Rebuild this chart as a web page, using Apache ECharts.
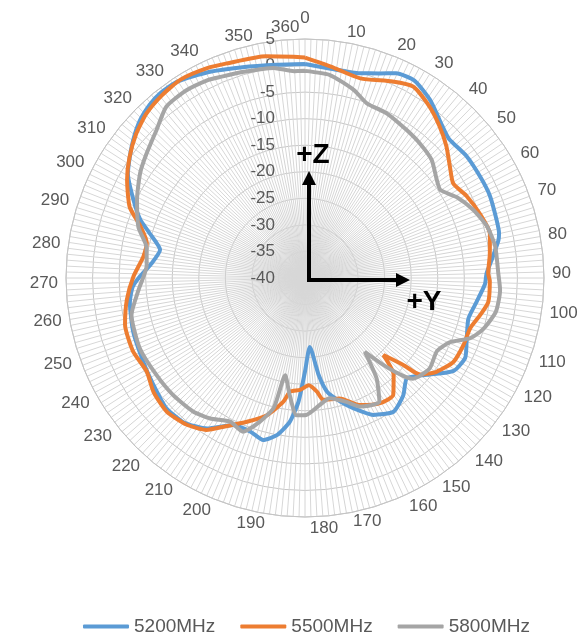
<!DOCTYPE html>
<html>
<head>
<meta charset="utf-8">
<title>Radiation pattern</title>
<script src="https://cdn.jsdelivr.net/npm/echarts@6/dist/echarts.min.js"></script>
<style>
  html, body { margin: 0; padding: 0; background: #fff; }
  #chart { width: 582px; height: 638px; }
</style>
</head>
<body>
<div id="chart"></div>
<script>
var seriesNames = ["5200MHz", "5500MHz", "5800MHz"];
var seriesColors = ["#5B9BD5", "#ED7D31", "#A5A5A5"];

var angle5200 = [0, 7, 15, 20, 24, 29, 35, 42, 46, 53, 60, 66, 73, 77, 79, 84.5, 88.5, 92, 98, 104,
    111.5, 116.5, 122, 128.5, 134.5, 140, 146.5, 153.5, 159.5, 164, 169, 172, 176, 180, 183, 186,
    190, 194.5, 199.5, 206, 213, 220, 227, 235, 242.5, 252.5, 262, 267, 270.5, 275.5, 281, 286,
    289.5, 294.5, 300.5, 307, 313, 318, 322, 327, 335, 343.5, 352.5, 360];
var gain5200 = [0.3, -0.3, -0.1, 1.0, 2.2, 2.5, 1.0, -1.4, -2.3, -1.9, -1.9, -1.9, -2.3, -2.5, -2.9, -4.7, -5.8, -6.1, -7.4, -8.3,
    -7.3, -6.3, -7.0, -10.7, -13.1, -11.2, -9.8, -11.2, -13.8, -15.8, -18.2, -21.6, -27.0, -22.4, -16.7, -12.8,
    -10.0, -8.5, -9.3, -9.2, -6.2, -4.5, -4.2, -5.1, -5.7, -6.1, -6.7, -7.5, -8.9, -11.0, -12.2, -9.6,
    -7.1, -4.5, -1.3, 0.9, 2.8, 3.8, 4.2, 4.1, 2.8, 1.4, 0.5, 0.3];

var angle5500 = [0, 7, 15.5, 24, 29.5, 36, 41.5, 47, 52.5, 57.5, 63, 70, 76.5, 82.5, 88.5, 91, 97.5,
    102, 107, 113, 119.5, 125.5, 130, 131.5, 134.5, 137.5, 143, 149, 156.5, 164, 171.5, 174, 178,
    182.5, 187.5, 190, 195.5, 202, 208, 213, 219, 226, 233, 239.5, 247, 255.5, 263, 270.5, 277.5,
    282.5, 287.5, 292, 299, 304.5, 310.5, 316, 322, 328, 335, 340, 350, 357, 360];
var gain5500 = [1.5, 0.1, -1.0, 0.5, 1.4, -0.1, -1.8, -3.6, -5.6, -6.9, -5.9, -4.9, -4.2, -4.9, -5.5, -5.2, -5.2,
    -6.3, -7.5, -7.6, -7.9, -9.6, -11.7, -15.3, -19.3, -15.3, -12.4, -12.5, -13.9, -16.4, -16.8, -18.5, -19.8,
    -18.9, -18.4, -16.3, -13.2, -10.8, -8.4, -5.9, -4.5, -3.8, -4.3, -5.4, -4.8, -5.0, -6.2, -7.7, -9.3,
    -9.5, -7.5, -4.4, -1.7, 0.1, 1.8, 3.0, 3.7, 4.1, 3.6, 3.0, 2.4, 1.7, 1.5];

var angle5800 = [0, 7, 14.5, 19.5, 26.5, 34.5, 40.5, 47, 53.5, 57, 62, 68, 74, 80.5, 88.5, 93.5, 100,
    106, 110, 114, 119, 126, 133, 135, 138, 141, 144.5, 149, 157, 161.5, 168.5, 173.5, 179.5, 183.5,
    187.5, 191.5, 193.5, 197.5, 202, 207.5, 214, 220, 228.5, 237, 247, 258, 266, 274.5, 281, 287,
    295, 302.5, 308, 315, 321, 327.5, 334, 337, 343.5, 351.5, 357, 360];
var gain5800 = [-1.0, -1.5, -3.4, -5.1, -5.4, -6.2, -6.7, -7.4, -9.1, -9.6, -7.6, -5.8, -4.4, -3.7, -3.6, -3.2, -3.5,
    -5.1, -6.9, -10.2, -11.6, -11.0, -12.2, -14.0, -18.0, -22.1, -16.8, -12.8, -13.7, -15.4, -16.9, -15.9, -14.2, -14.1,
    -17.8, -21.3, -14.9, -11.6, -8.8, -9.5, -8.1, -7.2, -6.8, -6.6, -6.2, -6.6, -8.6, -10.1, -9.6, -7.2,
    -5.1, -3.2, -2.1, -0.5, 1.5, 1.8, 1.5, 1.1, 0.5, 0.0, -1.0, -1.0];

// 角度刻度标签：文字与它在图上所处的方位(原图类目间距不均匀)
var angleLabelTexts = ["0", "10", "20", "30", "40", "50", "60", "70", "80", "90", "100", "110", "120",
    "130", "140", "150", "160", "170", "180", "190", "200", "210", "220", "230", "240", "250", "260",
    "270", "280", "290", "300", "310", "320", "330", "340", "350", "360"];
var angleLabelAt = [0, 12, 21.9, 31.6, 41.5, 51, 60.7, 70.2, 79.7, 88.9, 98.3, 108.9, 117.8,
    127.2, 136.6, 146.3, 155.1, 165.4, 175.6, 192.7, 202.4, 212.3, 221.9, 231.4, 240.7, 250.6, 260,
    268.7, 278, 287.3, 296.8, 306.2, 315.5, 325.2, 334.5, 344.4, 355.4];

// 径向刻度 (dB)
var radiusMin = -40;
var radiusMax = 5;
var radiusStep = 5;

(function () {
    var myChart = echarts.init(document.getElementById("chart"), null, { renderer: "canvas" });

    function pairs(angles, gains) {
        return angles.map(function (a, i) { return [gains[i], a]; });
    }

    var allAngles = [angle5200, angle5500, angle5800];
    var allGains = [gain5200, gain5500, gain5800];

    var labelFont = "'Liberation Sans', 'DejaVu Sans', sans-serif";
    var arrowFont = "bold 28px 'Liberation Sans', sans-serif";

    var option = {
        animation: false,
        color: seriesColors,
        polar: {
            center: [305, 278],
            radius: 239
        },
        angleAxis: {
            type: "value",
            min: 0,
            max: 360,
            interval: 10,
            startAngle: 90,
            clockwise: true,
            axisLine: { show: true, lineStyle: { color: "#c4c4c4", width: 1 } },
            axisTick: { show: false },
            axisLabel: {
                color: "#595959",
                fontSize: 17,
                lineHeight: 8,
                fontFamily: labelFont,
                margin: 8,
                customValues: angleLabelAt,
                formatter: function (v) {
                    var idx = angleLabelAt.indexOf(v);
                    var txt = idx >= 0 ? angleLabelTexts[idx] : "";
                    if (txt === "0") return "{z|0}";
                    return txt;
                },
                rich: {
                    z: { fontSize: 17, lineHeight: 8, color: "#595959", fontFamily: labelFont, padding: [0, 0, 17, 0] }
                }
            },
            splitLine: { show: true, lineStyle: { color: "#d4d4d4", width: 1 } },
            minorTick: { show: false, splitNumber: 7 },
            minorSplitLine: { show: true, lineStyle: { color: "#d7d7d7", width: 1 } }
        },
        radiusAxis: {
            type: "value",
            min: radiusMin,
            max: radiusMax,
            interval: radiusStep,
            axisLine: { show: false },
            axisTick: { show: false },
            axisLabel: {
                color: "#595959",
                fontSize: 17,
                fontFamily: labelFont,
                margin: 30
            },
            splitLine: { show: true, lineStyle: { color: "#c6c6c6", width: 1 } }
        },
        legend: {
            top: 612,
            left: 78,
            icon: "roundRect",
            itemWidth: 46,
            itemHeight: 4,
            itemGap: 25,
            textStyle: { color: "#595959", fontSize: 19, fontFamily: labelFont },
            data: seriesNames
        },
        series: seriesNames.map(function (name, k) {
            return {
                name: name,
                type: "line",
                coordinateSystem: "polar",
                symbol: "none",
                smooth: 0.2,
                lineStyle: { width: 4, color: seriesColors[k] },
                data: pairs(allAngles[k], allGains[k])
            };
        }),
        // +Z / +Y 坐标示意箭头
        graphic: [
            { type: "line", z: 100, shape: { x1: 309, y1: 282, x2: 309, y2: 182 }, style: { stroke: "#000", lineWidth: 4 } },
            { type: "polygon", z: 100, shape: { points: [[309, 171], [302, 185], [316, 185]] }, style: { fill: "#000" } },
            { type: "line", z: 100, shape: { x1: 307, y1: 280, x2: 398, y2: 280 }, style: { stroke: "#000", lineWidth: 4 } },
            { type: "polygon", z: 100, shape: { points: [[410, 280], [396, 273], [396, 287]] }, style: { fill: "#000" } },
            { type: "text", z: 100, style: { x: 313, y: 155, text: "+Z", fill: "#000", font: arrowFont, textAlign: "center", textVerticalAlign: "middle" } },
            { type: "text", z: 100, style: { x: 424, y: 302, text: "+Y", fill: "#000", font: arrowFont, textAlign: "center", textVerticalAlign: "middle" } }
        ]
    };

    myChart.setOption(option);
    window.addEventListener("resize", function () {
        myChart.resize();
    });
})();
</script>
</body>
</html>
